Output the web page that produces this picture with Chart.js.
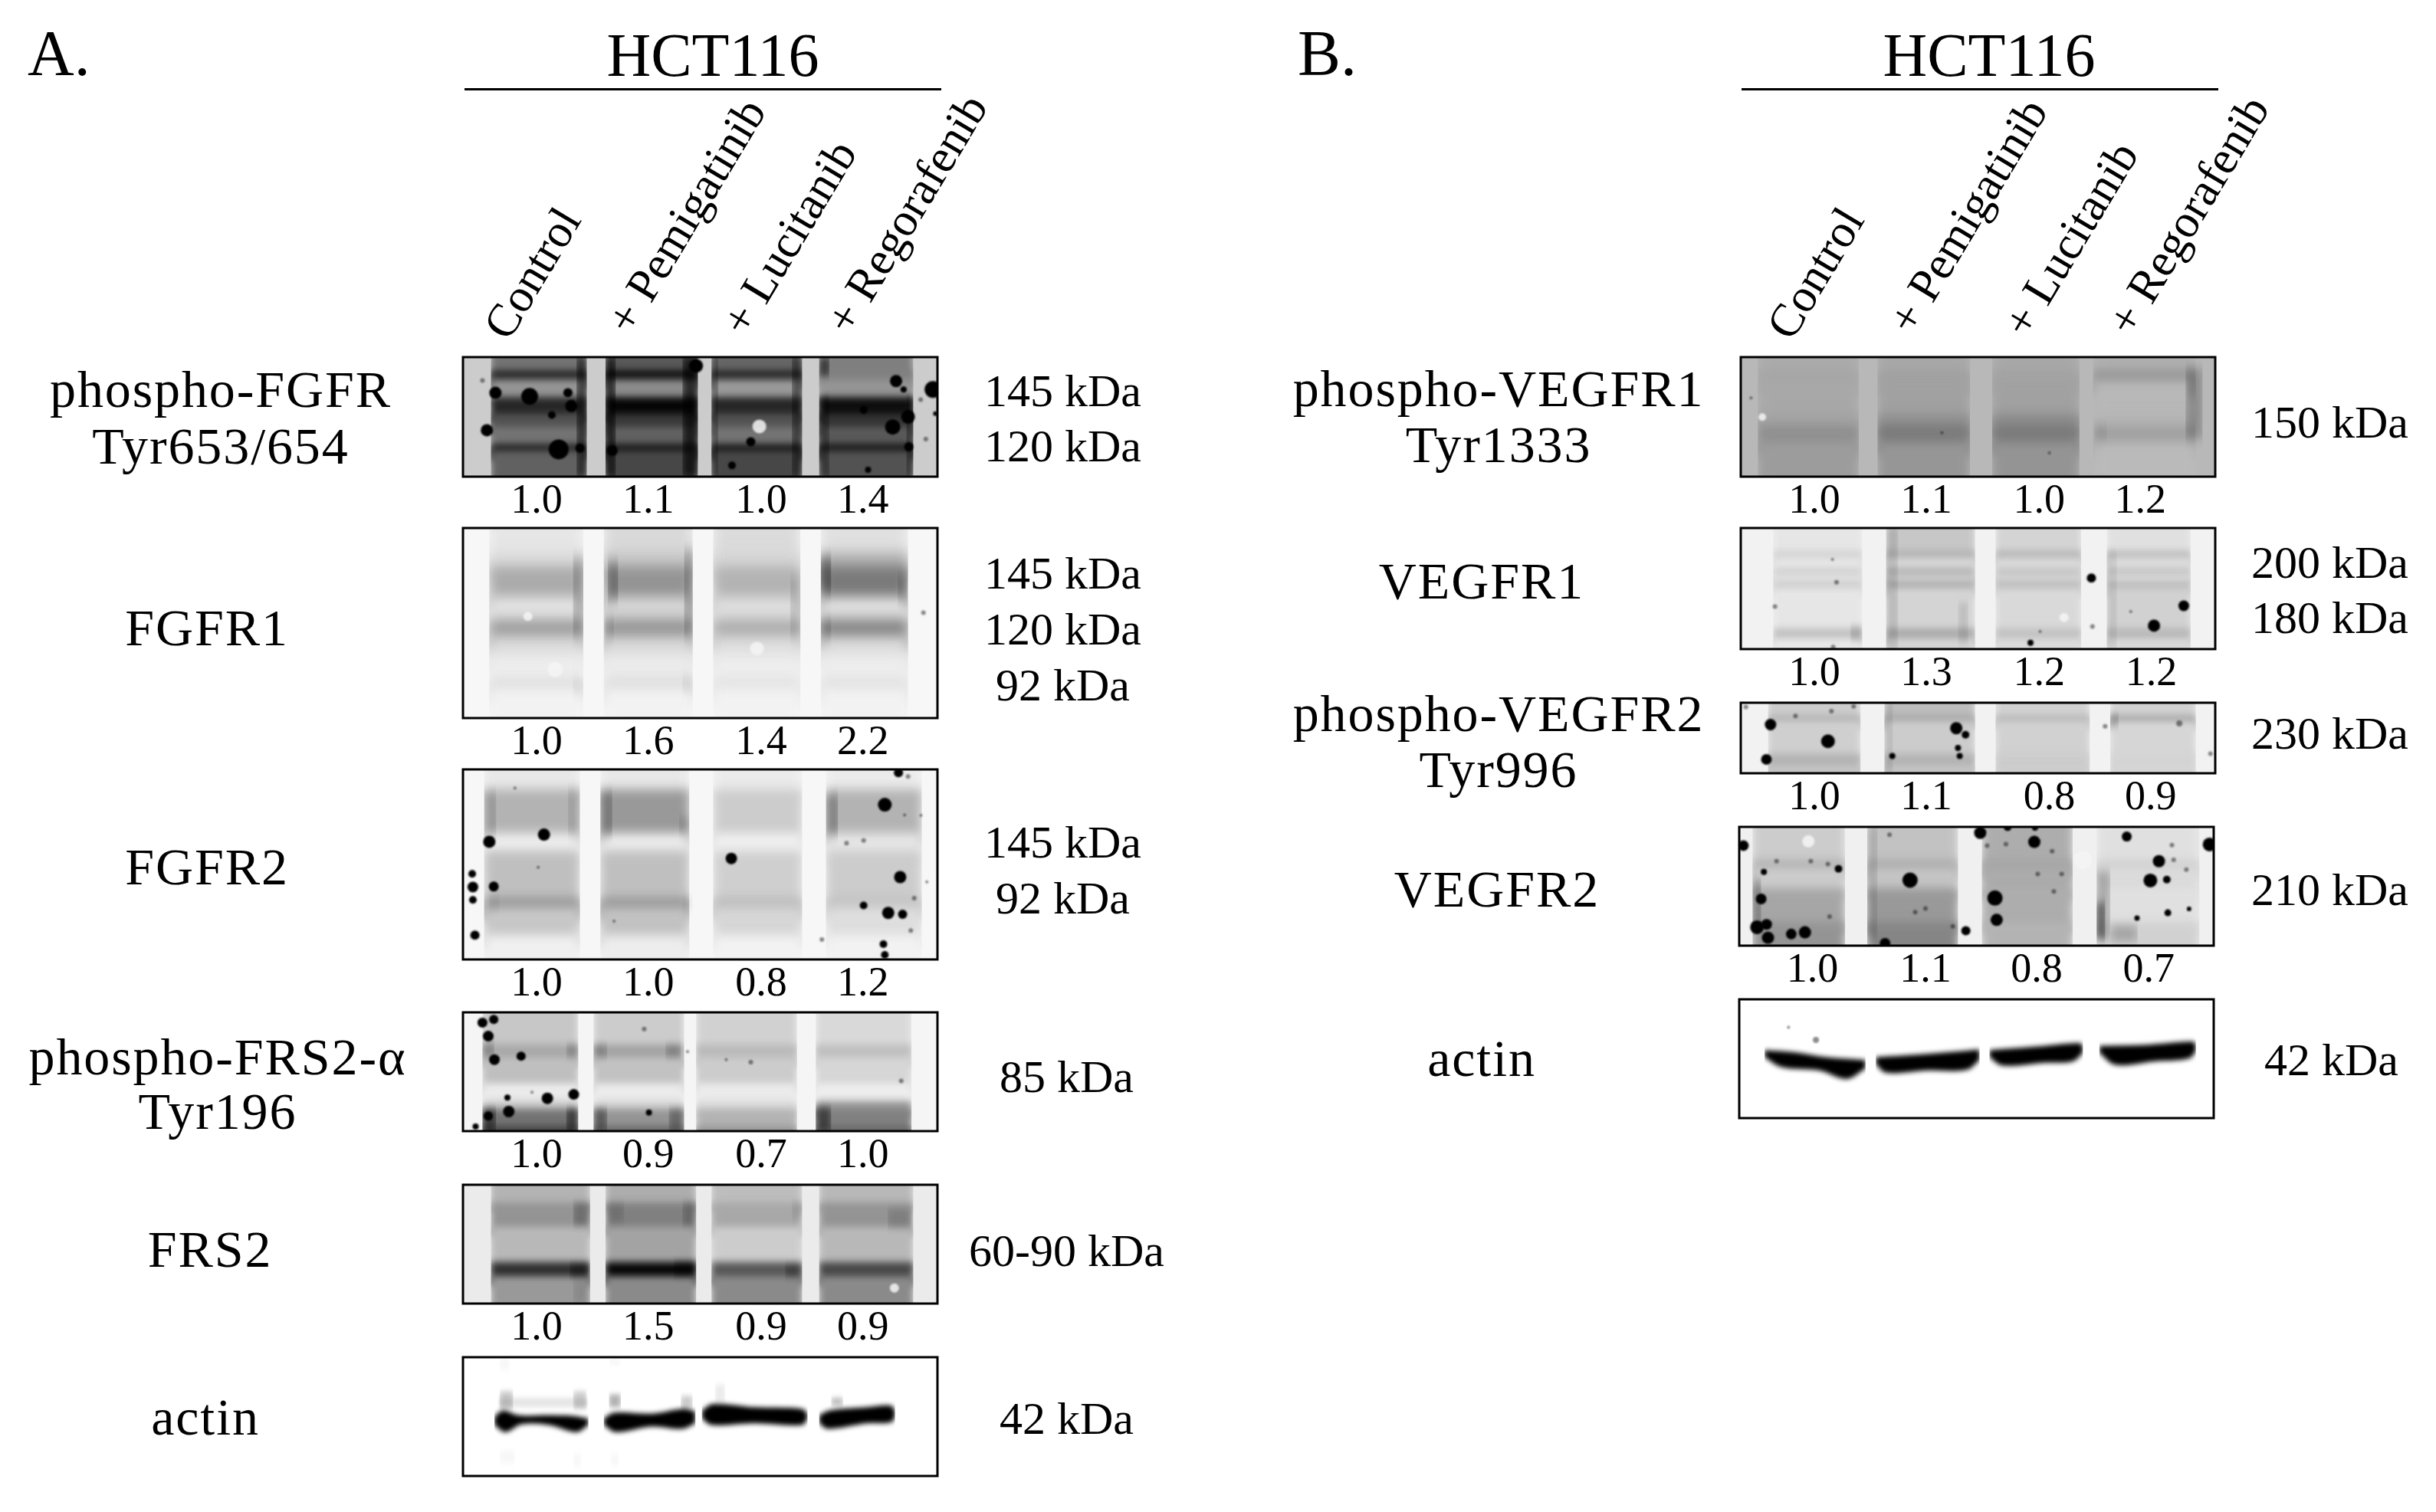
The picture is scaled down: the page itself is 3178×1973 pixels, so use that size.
<!DOCTYPE html>
<html>
<head>
<meta charset="utf-8">
<script src="https://cdn.jsdelivr.net/npm/chart.js@4/dist/chart.umd.min.js"></script>
<style>
  html, body { margin: 0; background: #fff; }
  #page { position: relative; width: 3178px; height: 1973px; overflow: hidden; font-family: "Liberation Serif", serif; color: #000; }
  #page canvas { position: absolute; }
  .txt { position: absolute; white-space: nowrap; line-height: 1; }
  .name { font-size: 68px; letter-spacing: 1.9px; transform: translate(-50%, -50%); text-align: center; }
  .cell { font-size: 80px; transform: translate(-50%, -50%); }
  .letter { font-size: 84px; }
  .lane { font-size: 61px; transform-origin: 0 100%; transform: rotate(-59deg); }
  .rule { position: absolute; height: 3px; background: #000; }
</style>
</head>
<body>
<div id="page"></div>
<script>
// treatments and labels
const treatments = ["Control", "+ Pemigatinib", "+ Lucitanib", "+ Regorafenib"];

// darkness values below are read off the crops: 0 white, 1 black
// blot units are crop readings, each blot has its own axis range

// phospho-FGFR
const pFGFR_density = [1.0, 1.1, 1.0, 1.4];
const pFGFR_kda = ["145 kDa", "120 kDa"];
const pFGFR_kdaRows = [222, 441];
const pFGFR_lanes = [[180, 460], [515, 785], [825, 1090], [1140, 1415]];
const pFGFR_rows = [78, 130, 165, 235, 300, 350, 420, 445];
const pFGFR_dark = [
  [.55, .85, .42, .85, .68, .55, .88, .62],
  [.65, .95, .45, .98, .78, .62, .92, .72],
  [.60, .85, .40, .85, .68, .55, .92, .72],
  [.50, .50, .42, .95, .80, .65, .92, .68]
];
const pFGFR_extra = [
  [430, 460, 78, 547, .6], [515, 545, 78, 547, .7], [740, 785, 78, 547, .7],
  [825, 845, 78, 547, .4], [1060, 1090, 78, 547, .5], [1140, 1170, 235, 547, .4], [1395, 1415, 235, 547, .5],
  [1140, 1170, 80, 150, .6]
];
const pFGFR_specks = [
  [193, 218, 8], [293, 232, 11], [405, 218, 6], [358, 305, 5], [168, 365, 8], [378, 440, 13], [780, 112, 9],
  [440, 435, 6], [535, 445, 7], [415, 270, 8], [1365, 172, 8], [1387, 205, 4], [1473, 205, 11], [1400, 312, 9],
  [1355, 352, 10], [1402, 430, 6], [940, 410, 6], [885, 503, 5], [1283, 520, 4], [1270, 285, 5], [1480, 300, 3]
];
const pFGFR_faint = [[1452, 400, 3], [1437, 245, 3], [155, 170, 3]];
const pFGFR_light = [[965, 350, 9]];

// FGFR1
const FGFR1_density = [1.0, 1.6, 1.4, 2.2];
const FGFR1_kda = ["145 kDa", "120 kDa", "92 kDa"];
const FGFR1_kdaRows = [936, 1156, 1375];
const FGFR1_lanes = [[175, 450], [510, 770], [830, 1085], [1145, 1400]];
const FGFR1_rows = [747, 840, 895, 1015, 1075, 1105, 1170, 1240, 1340, 1370];
const FGFR1_dark = [
  [.10, .14, .33, .11, .13, .38, .14, .07, .14, .05],
  [.15, .22, .42, .16, .18, .42, .15, .08, .15, .05],
  [.14, .16, .30, .13, .14, .32, .13, .07, .12, .05],
  [.12, .30, .52, .12, .16, .48, .14, .07, .13, .05]
];
const FGFR1_extra = [
  [420, 450, 860, 1170, .3], [522, 552, 880, 1030, .4], [515, 540, 1100, 1170, .2], [745, 770, 830, 1170, .35],
  [740, 770, 1330, 1380, .12], [1145, 1175, 860, 1000, .55], [1145, 1175, 1105, 1170, .3], [1370, 1398, 930, 1030, .25],
  [1055, 1085, 940, 1170, .18], [420, 450, 1340, 1390, .1]
];
const FGFR1_specks = [];
const FGFR1_faint = [[1445, 1078, 3]];
const FGFR1_light = [[958, 1218, 9], [288, 1092, 6], [368, 1300, 10]];

// FGFR2
const FGFR2_density = [1.0, 1.0, 0.8, 1.2];
const FGFR2_kda = ["145 kDa", "92 kDa"];
const FGFR2_kdaRows = [369, 589];
const FGFR2_lanes = [[160, 440], [500, 760], [830, 1090], [1160, 1440]];
const FGFR2_rows = [72, 150, 320, 390, 575, 610, 720];
const FGFR2_dark = [
  [.09, .30, .07, .25, .42, .22, .06],
  [.09, .40, .08, .25, .42, .24, .07],
  [.08, .20, .06, .19, .27, .16, .05],
  [.08, .30, .10, .20, .24, .13, .05]
];
const FGFR2_extra = [
  [160, 195, 160, 330, .2], [405, 440, 150, 330, .15], [500, 535, 160, 330, .3], [730, 760, 260, 320, .2],
  [1160, 1195, 170, 330, .35], [175, 205, 580, 610, .15], [740, 770, 580, 610, .12]
];
const FGFR2_specks = [
  [175, 355, 8], [335, 327, 8], [125, 480, 5], [127, 532, 7], [127, 582, 5], [188, 530, 6.5], [133, 720, 6],
  [883, 420, 7.5], [1332, 210, 9], [1377, 493, 8], [1270, 604, 5], [1342, 633, 8], [1384, 638, 6],
  [1328, 755, 5], [1332, 797, 5], [1372, 85, 6]
];
const FGFR2_faint = [
  [1220, 360, 3], [1270, 350, 3], [1418, 575, 3], [1390, 250, 2], [1438, 252, 2], [1148, 737, 3], [1408, 702, 3],
  [1400, 100, 3], [540, 665, 2], [250, 145, 2], [318, 455, 2], [1455, 512, 2]
];
const FGFR2_light = [];

// phospho-FRS2-alpha
const pFRS2_density = [1.0, 0.9, 0.7, 1.0];
const pFRS2_kda = ["85 kDa"];
const pFRS2_kdaRows = [260];
const pFRS2_lanes = [[155, 435], [480, 745], [780, 1075], [1130, 1410]];
const pFRS2_rows = [50, 150, 190, 270, 325, 350, 405];
const pFRS2_dark = [
  [.22, .34, .25, .08, .22, .55, .75],
  [.20, .36, .24, .08, .18, .42, .60],
  [.18, .27, .20, .08, .15, .30, .42],
  [.15, .25, .16, .07, .40, .50, .60]
];
const pFRS2_extra = [
  [155, 190, 140, 190, .2], [400, 435, 150, 190, .2], [480, 520, 150, 190, .2], [690, 735, 150, 190, .2],
  [155, 195, 350, 419, .5], [400, 435, 350, 419, .5], [480, 520, 350, 419, .4], [700, 745, 350, 419, .3],
  [1130, 1175, 345, 419, .5]
];
const pFRS2_specks = [
  [155, 82, 6.5], [188, 72, 6], [172, 124, 7], [190, 197, 7], [268, 186, 6], [232, 358, 7.5], [345, 317, 7.5],
  [422, 305, 7], [228, 315, 4], [172, 372, 6], [135, 405, 4], [642, 361, 4]
];
const pFRS2_faint = [[628, 102, 3], [940, 205, 3], [868, 197, 2], [1380, 263, 3], [755, 172, 2], [300, 298, 2]];
const pFRS2_light = [];

// FRS2
const FRS2_density = [1.0, 1.5, 0.9, 0.9];
const FRS2_kda = ["60-90 kDa"];
const FRS2_kdaRows = [800];
const FRS2_lanes = [[180, 470], [515, 780], [825, 1090], [1140, 1415]];
const FRS2_rows = [585, 640, 715, 825, 868];
const FRS2_dark = [
  [.30, .42, .28, .82, .40],
  [.32, .50, .36, .98, .46],
  [.26, .34, .20, .66, .46],
  [.28, .42, .28, .72, .46]
];
const FRS2_extra = [
  [420, 470, 640, 710, .25], [520, 570, 640, 700, .12], [740, 780, 640, 710, .2], [1340, 1410, 660, 720, .14],
  [1060, 1090, 640, 690, .1], [410, 465, 832, 868, .4], [715, 780, 825, 865, .4], [1040, 1090, 835, 870, .3],
  [420, 470, 880, 953, .1]
];
const FRS2_specks = [];
const FRS2_faint = [];
const FRS2_light = [[1360, 905, 6]];

// actin, panel A
const actinA_kda = ["42 kDa"];
const actinA_kdaRows = [1320];
const actinA_extra = [
  [200, 465, 1245, 1275, .1], [205, 245, 1225, 1280, .2], [420, 460, 1225, 1280, .18], [525, 560, 1235, 1275, .3],
  [735, 770, 1240, 1280, .2], [835, 865, 1205, 1262, .08], [1175, 1210, 1245, 1270, .25], [205, 235, 1125, 1160, .03],
  [205, 250, 1410, 1450, .03], [420, 445, 1420, 1460, .03], [525, 560, 1125, 1145, .03], [530, 555, 1420, 1455, .03]
];
const actinA_top = [
  [[190, 1305], [215, 1285], [260, 1300], [350, 1300], [420, 1302], [465, 1310]],
  [[510, 1310], [540, 1292], [650, 1295], [740, 1280], [778, 1288]],
  [[797, 1285], [830, 1265], [950, 1275], [1090, 1280], [1106, 1295]],
  [[1140, 1300], [1170, 1285], [1280, 1275], [1350, 1270], [1362, 1285]]
];
const actinA_bottom = [
  [[190, 1330], [222, 1352], [270, 1328], [350, 1330], [430, 1352], [465, 1330]],
  [[510, 1330], [545, 1352], [650, 1335], [740, 1342], [778, 1325]],
  [[797, 1310], [825, 1330], [950, 1325], [1090, 1330], [1106, 1310]],
  [[1140, 1325], [1165, 1342], [1280, 1325], [1350, 1322], [1362, 1305]]
];

// phospho-VEGFR1
const pVEGFR1_density = [1.0, 1.1, 1.0, 1.2];
const pVEGFR1_kda = ["150 kDa"];
const pVEGFR1_kdaRows = [345];
const pVEGFR1_lanes = [[120, 415], [470, 740], [805, 1060], [1100, 1400]];
const pVEGFR1_rows = [78, 130, 170, 300, 345, 410];
const pVEGFR1_dark = [
  [.33, .35, .34, .36, .44, .39],
  [.34, .37, .37, .43, .52, .41],
  [.34, .36, .37, .45, .52, .42],
  [.31, .42, .28, .29, .37, .27]
];
const pVEGFR1_extra = [[1370, 1420, 120, 400, .25], [1375, 1400, 180, 230, .12], [1105, 1140, 350, 400, .1]];
const pVEGFR1_specks = [];
const pVEGFR1_faint = [[658, 375, 2], [972, 454, 2], [100, 238, 2]];
const pVEGFR1_light = [[133, 313, 5]];

// VEGFR1
const VEGFR1_density = [1.0, 1.3, 1.2, 1.2];
const VEGFR1_kda = ["200 kDa", "180 kDa"];
const VEGFR1_kdaRows = [894, 1113];
const VEGFR1_lanes = [[165, 425], [495, 755], [815, 1065], [1140, 1385]];
const VEGFR1_rows = [747, 835, 865, 900, 935, 950, 985, 1140, 1180];
const VEGFR1_dark = [
  [.10, .17, .10, .17, .10, .18, .10, .24, .09],
  [.22, .30, .15, .28, .17, .30, .17, .33, .17],
  [.17, .28, .14, .22, .15, .25, .15, .24, .14],
  [.12, .25, .13, .22, .12, .25, .18, .28, .15]
];
const VEGFR1_extra = [
  [495, 530, 747, 1222, .12], [705, 735, 1040, 1200, .1], [390, 425, 1130, 1190, .15], [1140, 1170, 840, 1222, .08]
];
const VEGFR1_specks = [[1095, 943, 6], [1278, 1130, 8], [1365, 1052, 7], [917, 1197, 4]];
const VEGFR1_faint = [[170, 1055, 3], [1098, 1133, 3], [338, 870, 2], [350, 960, 3], [340, 1214, 3], [945, 1153, 2], [1210, 1075, 2]];
const VEGFR1_light = [[1015, 1098, 6]];

// phospho-VEGFR2
const pVEGFR2_density = [1.0, 1.1, 0.8, 0.9];
const pVEGFR2_kda = ["230 kDa"];
const pVEGFR2_kdaRows = [165];
const pVEGFR2_lanes = [[150, 420], [490, 755], [815, 1090], [1150, 1400]];
const pVEGFR2_rows = [45, 90, 110, 225, 265];
const pVEGFR2_dark = [
  [.20, .30, .19, .30, .24],
  [.26, .34, .20, .30, .24],
  [.18, .28, .18, .20, .20],
  [.18, .35, .16, .17, .17]
];
const pVEGFR2_extra = [[490, 515, 45, 294, .1], [1150, 1175, 85, 130, .2]];
const pVEGFR2_specks = [[157, 122, 7.5], [325, 181, 9], [145, 245, 7], [700, 135, 8], [727, 158, 5], [705, 205, 4], [710, 233, 4], [513, 233, 4]];
const pVEGFR2_faint = [[230, 92, 3], [335, 75, 3], [400, 58, 3], [1352, 118, 4], [1443, 225, 3], [85, 60, 3], [1135, 128, 3]];
const pVEGFR2_light = [];

// VEGFR2
const VEGFR2_density = [1.0, 1.1, 0.8, 0.7];
const VEGFR2_kda = ["210 kDa"];
const VEGFR2_kdaRows = [718];
const VEGFR2_lanes = [[105, 375], [440, 705], [775, 1040], [1110, 1410]];
const VEGFR2_rows = [484, 600, 630, 700, 820];
const VEGFR2_dark = [
  [.20, .30, .20, .35, .42],
  [.24, .32, .23, .40, .48],
  [.32, .35, .33, .32, .30],
  [.12, .18, .14, .12, .18]
];
const VEGFR2_extra = [
  [1110, 1150, 640, 880, .25], [1110, 1135, 750, 880, .55], [105, 130, 670, 830, .35], [440, 470, 484, 880, .15],
  [1150, 1230, 830, 890, .2]
];
const VEGFR2_specks = [
  [78, 550, 7], [130, 738, 7], [118, 838, 9], [146, 828, 7], [150, 875, 8], [218, 862, 7], [258, 856, 8], [138, 643, 4],
  [356, 632, 5], [565, 672, 10], [770, 505, 8], [928, 537, 8], [813, 735, 10], [818, 812, 8], [728, 850, 6], [492, 895, 7],
  [1198, 518, 6.5], [1292, 605, 8], [1267, 673, 9], [1315, 670, 5], [1440, 546, 9], [1318, 787, 4.5], [1228, 806, 3.5],
  [1380, 773, 3], [850, 485, 5], [930, 487, 4]
];
const VEGFR2_faint = [
  [1008, 650, 3], [985, 712, 3], [790, 550, 3], [845, 545, 3], [938, 650, 3], [980, 570, 3], [610, 772, 3], [580, 785, 3],
  [1330, 548, 3], [1372, 635, 3], [1335, 600, 3], [330, 800, 3], [175, 605, 3], [275, 605, 3], [325, 615, 3], [690, 835, 3], [505, 512, 3]
];
const VEGFR2_light = [[268, 535, 8], [1070, 600, 12]];

// actin, panel B
const actinB_kda = ["42 kDa"];
const actinB_kdaRows = [1315];
const actinB_extra = [];
const actinB_top = [
  [[140, 1270], [230, 1278], [320, 1295], [435, 1305]],
  [[465, 1295], [600, 1285], [768, 1268]],
  [[797, 1270], [930, 1258], [1060, 1245], [1070, 1255]],
  [[1118, 1255], [1250, 1252], [1390, 1240], [1400, 1250]]
];
const actinB_bottom = [
  [[140, 1295], [190, 1330], [300, 1342], [380, 1372], [435, 1335]],
  [[465, 1320], [495, 1350], [620, 1342], [730, 1340], [768, 1305]],
  [[797, 1295], [835, 1325], [960, 1315], [1040, 1310], [1070, 1280]],
  [[1118, 1280], [1165, 1322], [1280, 1310], [1380, 1300], [1400, 1275]]
];
const actinB_faint = [[290, 1234, 4], [210, 1190, 2]];

// tick places for the densitometry numbers, in crop x
const densityX_A = [313, 640, 970, 1268];
const densityX_B1 = [285, 612, 942, 1238];
const densityX_B2 = [285, 612, 942, 1270];
const densityX_B3 = [285, 612, 972, 1268];
const densityX_B4 = [280, 610, 935, 1262];

const page = document.getElementById("page");

function tone(d) {
  const g = Math.round(255 * (1 - d));
  return "rgb(" + g + "," + g + "," + g + ")";
}

// one filled area between two lines; returned as a pair of datasets
function area(top, bottom, color) {
  const edge = (pts) => pts.map(p => ({x: p[0], y: p[1]}));
  return [
    {type: "line", data: edge(top), fill: "+1", backgroundColor: color, borderWidth: 0, pointRadius: 0, tension: 0.35},
    {type: "line", data: edge(bottom), fill: false, borderWidth: 0, pointRadius: 0, tension: 0.35}
  ];
}

function box(x0, x1, y0, y1, color) {
  return area([[x0, y0], [x1, y0]], [[x0, y1], [x1, y1]], color);
}

function specks(list, color) {
  return {type: "bubble", data: list.map(s => ({x: s[0], y: s[1], r: s[2]})), backgroundColor: color, borderWidth: 0};
}

function build_datasets(b) {
  // painter's order here, chart.js draws the first dataset last so it gets reversed
  let layers = [box(b.xr[0] - 40, b.xr[1] + 40, b.yr[0] - 40, b.yr[1] + 40, tone(b.base))];
  // rows only overlap the next one by the blur reach, stacking more hardens the lane edge
  const overlap = 2.5 * b.blur * (b.yr[1] - b.yr[0]) / (b.bottom_px - b.top_px);
  (b.lanes || []).forEach((lane, i) => {
    b.rows.forEach((row, j) => {
      const next = j + 1 < b.rows.length ? b.rows[j + 1] + overlap : b.yr[1] + 40;
      layers.push(box(lane[0], lane[1], j == 0 ? b.yr[0] - 40 : row, next, tone(b.dark[i][j])));
    });
  });
  (b.extra || []).forEach(e => {
    layers.push(box(e[0], e[1], e[2], e[3], "rgba(0,0,0," + e[4] + ")"));
  });
  (b.top || []).forEach((t, i) => {
    layers.push(area(t, b.bottom[i], "#000"));
  });
  let sets = [];
  layers.reverse().forEach(pair => { sets.push(pair[0], pair[1]); });
  return [
    specks(b.specks || [], "#000"),
    specks(b.faint || [], "rgba(0,0,0,.45)"),
    specks(b.light || [], "rgba(245,245,245,.85)")
  ].concat(sets);
}

const blotPainter = {
  id: "blotPainter",
  beforeDatasetsDraw(chart, args, opts) {
    chart.ctx.save();
    chart.ctx.filter = "blur(" + opts.blur + "px)";
  },
  beforeDatasetDraw(chart, args) {
    if (args.meta.type == "bubble") chart.ctx.filter = "blur(1.2px)";
  },
  afterDatasetsDraw(chart) {
    chart.ctx.restore();
  },
  afterDraw(chart) {
    const a = chart.chartArea;
    chart.ctx.save();
    chart.ctx.filter = "none";
    chart.ctx.lineWidth = 3;
    chart.ctx.strokeStyle = "#000";
    chart.ctx.strokeRect(a.left, a.top, a.right - a.left, a.bottom - a.top);
    chart.ctx.restore();
  }
};

const GUTTER_RIGHT = 330, GUTTER_BOTTOM = 70, PAD = 4;

function no_padding(s) {
  s.paddingLeft = s.paddingRight = s.paddingTop = s.paddingBottom = 0;
}

function build_blot(b) {
  const w = b.right - b.left, h = b.bottom_px - b.top_px;
  const canvas = document.createElement("canvas");
  canvas.width = w + GUTTER_RIGHT + PAD;
  canvas.height = h + GUTTER_BOTTOM + PAD;
  canvas.style.left = (b.left - PAD) + "px";
  canvas.style.top = (b.top_px - PAD) + "px";
  page.appendChild(canvas);

  const density = b.density || [];
  new Chart(canvas, {
    type: "line",
    data: {datasets: build_datasets(b)},
    plugins: [blotPainter],
    options: {
      responsive: false,
      animation: false,
      devicePixelRatio: 1,
      events: [],
      layout: {autoPadding: false, padding: {top: PAD, left: PAD, right: 0, bottom: 0}},
      plugins: {legend: {display: false}, tooltip: {enabled: false}, blotPainter: {blur: b.blur}},
      scales: {
        x: {
          type: "linear", min: b.xr[0], max: b.xr[1],
          grid: {display: false, drawTicks: false}, border: {display: false},
          afterBuildTicks: s => { s.ticks = (b.densityX || []).map(v => ({value: v})); },
          afterFit: s => { s.height = GUTTER_BOTTOM; no_padding(s); },
          ticks: {
            autoSkip: false, maxRotation: 0, padding: 0, color: "#000",
            font: {family: "Liberation Serif", size: 54},
            callback: (v, i) => density[i] === undefined ? "" : density[i].toFixed(1)
          }
        },
        y: {
          type: "linear", reverse: true, position: "right", min: b.yr[0], max: b.yr[1],
          grid: {display: false, drawTicks: false}, border: {display: false},
          afterBuildTicks: s => { s.ticks = b.kdaRows.map(v => ({value: v})); },
          afterFit: s => { s.width = GUTTER_RIGHT; no_padding(s); },
          ticks: {
            autoSkip: false, padding: b.kdaPad, crossAlign: "center", color: "#000",
            font: {family: "Liberation Serif", size: 60},
            callback: (v, i) => b.kda[i]
          }
        }
      }
    }
  });
}

const A = {left: 604, right: 1223, xr: [98, 1486]};
const B = {left: 2271, right: 2890, xr: [70, 1457]};
const B2 = {left: 2269, right: 2888, xr: [66, 1452]};

const blots = [
  {...A, top_px: 466, bottom_px: 622, yr: [78, 547], base: .2, blur: 5, density: pFGFR_density, densityX: densityX_A, kda: pFGFR_kda, kdaRows: pFGFR_kdaRows, kdaPad: 61, lanes: pFGFR_lanes, rows: pFGFR_rows, dark: pFGFR_dark, extra: pFGFR_extra, specks: pFGFR_specks, faint: pFGFR_faint, light: pFGFR_light},
  {...A, top_px: 689, bottom_px: 937, yr: [747, 1490], base: .03, blur: 8, density: FGFR1_density, densityX: densityX_A, kda: FGFR1_kda, kdaRows: FGFR1_kdaRows, kdaPad: 61, lanes: FGFR1_lanes, rows: FGFR1_rows, dark: FGFR1_dark, extra: FGFR1_extra, specks: FGFR1_specks, faint: FGFR1_faint, light: FGFR1_light},
  {...A, top_px: 1004, bottom_px: 1252, yr: [72, 815], base: .03, blur: 7, density: FGFR2_density, densityX: densityX_A, kda: FGFR2_kda, kdaRows: FGFR2_kdaRows, kdaPad: 61, lanes: FGFR2_lanes, rows: FGFR2_rows, dark: FGFR2_dark, extra: FGFR2_extra, specks: FGFR2_specks, faint: FGFR2_faint, light: FGFR2_light},
  {...A, top_px: 1321, bottom_px: 1476, yr: [50, 419], base: .04, blur: 5, density: pFRS2_density, densityX: densityX_A, kda: pFRS2_kda, kdaRows: pFRS2_kdaRows, kdaPad: 81, lanes: pFRS2_lanes, rows: pFRS2_rows, dark: pFRS2_dark, extra: pFRS2_extra, specks: pFRS2_specks, faint: pFRS2_faint, light: pFRS2_light},
  {...A, top_px: 1546, bottom_px: 1701, yr: [585, 953], base: .08, blur: 5, density: FRS2_density, densityX: densityX_A, kda: FRS2_kda, kdaRows: FRS2_kdaRows, kdaPad: 41, lanes: FRS2_lanes, rows: FRS2_rows, dark: FRS2_dark, extra: FRS2_extra, specks: FRS2_specks, faint: FRS2_faint, light: FRS2_light},
  {...A, top_px: 1771, bottom_px: 1926, yr: [1120, 1488], base: 0, blur: 3, kda: actinA_kda, kdaRows: actinA_kdaRows, kdaPad: 81, extra: actinA_extra, top: actinA_top, bottom: actinA_bottom},
  {...B, top_px: 466, bottom_px: 622, yr: [78, 547], base: .28, blur: 7, density: pVEGFR1_density, densityX: densityX_B1, kda: pVEGFR1_kda, kdaRows: pVEGFR1_kdaRows, kdaPad: 47, lanes: pVEGFR1_lanes, rows: pVEGFR1_rows, dark: pVEGFR1_dark, extra: pVEGFR1_extra, specks: pVEGFR1_specks, faint: pVEGFR1_faint, light: pVEGFR1_light},
  {...B, top_px: 689, bottom_px: 847, yr: [747, 1222], base: .05, blur: 4, density: VEGFR1_density, densityX: densityX_B2, kda: VEGFR1_kda, kdaRows: VEGFR1_kdaRows, kdaPad: 47, lanes: VEGFR1_lanes, rows: VEGFR1_rows, dark: VEGFR1_dark, extra: VEGFR1_extra, specks: VEGFR1_specks, faint: VEGFR1_faint, light: VEGFR1_light},
  {...B, top_px: 917, bottom_px: 1009, yr: [45, 294], base: .05, blur: 4, density: pVEGFR2_density, densityX: densityX_B3, kda: pVEGFR2_kda, kdaRows: pVEGFR2_kdaRows, kdaPad: 47, lanes: pVEGFR2_lanes, rows: pVEGFR2_rows, dark: pVEGFR2_dark, extra: pVEGFR2_extra, specks: pVEGFR2_specks, faint: pVEGFR2_faint, light: pVEGFR2_light},
  {...B2, top_px: 1079, bottom_px: 1234, yr: [484, 903], base: .06, blur: 6, density: VEGFR2_density, densityX: densityX_B4, kda: VEGFR2_kda, kdaRows: VEGFR2_kdaRows, kdaPad: 49, lanes: VEGFR2_lanes, rows: VEGFR2_rows, dark: VEGFR2_dark, extra: VEGFR2_extra, specks: VEGFR2_specks, faint: VEGFR2_faint, light: VEGFR2_light},
  {...B2, top_px: 1304, bottom_px: 1459, yr: [1091, 1510], base: 0, blur: 3, kda: actinB_kda, kdaRows: actinB_kdaRows, kdaPad: 66, extra: actinB_extra, top: actinB_top, bottom: actinB_bottom, faint: actinB_faint}
];

function add_text(cls, str, x, y) {
  const el = document.createElement("div");
  el.className = "txt " + cls;
  el.textContent = str;
  el.style.left = x + "px";
  el.style.top = y + "px";
  page.appendChild(el);
}

// protein names, centre of each line
const names = ["phospho-FGFR", "Tyr653/654", "FGFR1", "FGFR2", "phospho-FRS2-α", "Tyr196", "FRS2", "actin",
  "phospho-VEGFR1", "Tyr1333", "VEGFR1", "phospho-VEGFR2", "Tyr996", "VEGFR2", "actin"];
const nameSpots = [[288, 508], [288, 582], [270, 819], [270, 1131], [284, 1379], [284, 1450], [274, 1630], [268, 1849],
  [1955, 507], [1955, 580], [1933, 758], [1955, 931], [1955, 1004], [1953, 1160], [1933, 1381]];
names.forEach((n, i) => add_text("name", n, nameSpots[i][0], nameSpots[i][1]));

add_text("letter", "A.", 36, 28);
add_text("letter", "B.", 1693, 28);
add_text("cell", "HCT116", 930, 72);
add_text("cell", "HCT116", 2595, 72);

[[606, 622], [2272, 622]].forEach(r => {
  const el = document.createElement("div");
  el.className = "rule";
  el.style.left = r[0] + "px";
  el.style.width = r[1] + "px";
  el.style.top = "115px";
  page.appendChild(el);
});

// foot of each rotated treatment label
const laneFeet = [[672, 391], [832, 384], [982, 386], [1118, 384], [2346, 391], [2504, 384], [2654, 388], [2790, 386]];
laneFeet.forEach((f, i) => add_text("lane", treatments[i % 4], f[0], f[1]));

blots.forEach(build_blot);
</script>
</body>
</html>
